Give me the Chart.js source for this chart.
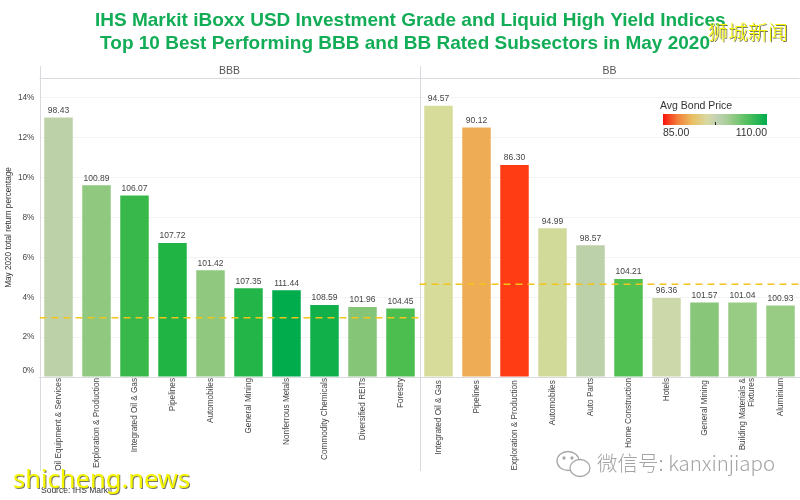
<!DOCTYPE html>
<html><head><meta charset="utf-8">
<script src="https://cdn.jsdelivr.net/npm/chart.js@4/dist/chart.umd.min.js"></script>
<style>
html,body{margin:0;padding:0;background:#fff;overflow:hidden}
#wrap{position:relative;width:800px;height:500px;font-family:"Liberation Sans",Arial,sans-serif}
#c{position:absolute;left:0;top:0}
.t{position:absolute;white-space:nowrap;line-height:1}
#bar{position:absolute;left:663px;top:114px;width:104px;height:11px;background:linear-gradient(90deg,#f8120c 0%,#f2803a 14%,#eabf62 28%,#d8d8a0 42%,#c2d2b4 52%,#a0cc90 64%,#58c060 80%,#00ac4c 100%)}
#tick{position:absolute;left:715px;top:122px;width:1px;height:3px;background:#222}
.yl{color:#f6f600;text-shadow:1px 1px 0 #776}
</style></head><body>
<div id="wrap">
<canvas id="c" width="800" height="500"></canvas>
<div class="t" style="left:660px;top:100px;font-size:10.5px;color:#333">Avg Bond Price</div>
<div id="bar"></div><div id="tick"></div>
<div class="t" style="left:663px;top:127px;font-size:10.5px;color:#333">85.00</div>
<div class="t" style="right:33px;top:127px;font-size:10.5px;color:#333">110.00</div>
<div class="t" style="left:41px;top:486px;font-size:8.5px;color:#333">Source: IHS Markit</div>
<div class="t yl" style="left:13px;top:466px;font-family:'Noto Sans';font-size:25.5px">shicheng.news</div>
<div class="t yl" style="left:708px;top:22px;font-family:'Noto Sans CJK SC';font-weight:300;font-size:20px">狮城新闻</div>
<div class="t" style="left:597px;top:452px;font-family:'Noto Sans CJK SC';font-weight:300;font-size:20.5px;color:#a4a4a4">微信号: kanxinjiapo</div>
<svg style="position:absolute;left:555px;top:449px" width="38" height="30" fill="none" stroke="#a8a8a8" stroke-width="1.3"><ellipse cx="13" cy="12" rx="11" ry="9.5" fill="#fff"/><ellipse cx="25" cy="19" rx="10" ry="8.5" fill="#fff"/><circle cx="9" cy="9" r="1" fill="#a8a8a8"/><circle cx="17" cy="9" r="1" fill="#a8a8a8"/></svg>
</div>
<script>
const titleLines = ["    IHS Markit iBoxx USD Investment Grade and Liquid High Yield Indices","  Top 10 Best Performing BBB and BB Rated Subsectors in May 2020"];
const yAxisTitle = "May 2020 total return percentage";
const panes = ["BBB","BB"];
const categories = [
 "Oil Equipment & Services","Exploration & Production","Integrated Oil & Gas","Pipelines","Automobiles","General Mining","Nonferrous Metals","Commodity Chemicals","Diversified REITs","Forestry",
 "Integrated Oil & Gas ","Pipelines ","Exploration & Production ","Automobiles ","Auto Parts","Home Construction","Hotels","General Mining ",["Building Materials &","Fixtures"],"Aluminium"];
const returns = [13.02,9.62,9.10,6.72,5.35,4.45,4.35,3.61,3.51,3.44,
 13.61,12.52,10.64,7.46,6.61,4.91,3.96,3.74,3.74,3.59];
const prices = ["98.43","100.89","106.07","107.72","101.42","107.35","111.44","108.59","101.96","104.45",
 "94.57","90.12","86.30","94.99","98.57","104.21","96.36","101.57","101.04","100.93"];
const barColors = ["#bdd1a9","#90c880","#38b84a","#20b444","#90c880","#24b548","#00ac4c","#12b04a","#84c578","#4cbe50",
 "#d8dc9a","#eeac55","#ff3c14","#d2da9a","#bcd0aa","#50c052","#ccd8aa","#88c67a","#98cc84","#98cc84"];
const avgBBB = [{x:0,y:2.97},{x:10,y:2.97}];
const avgBB = [{x:10,y:4.65},{x:20,y:4.65}];
const yTicks = [0,2,4,6,8,10,12,14];

const decor = {
 id:"decor",
 beforeDatasetsDraw(ch){
  const c=ch.ctx,a=ch.chartArea,x2=ch.scales.x2,y=ch.scales.y;
  c.save();c.strokeStyle="#d9d9e0";c.lineWidth=1;
  c.beginPath();c.moveTo(a.left,a.top+.5);c.lineTo(a.right,a.top+.5);
  [0,10].forEach(v=>{const p=Math.round(x2.getPixelForValue(v))+.5;c.moveTo(p,66);c.lineTo(p,471);});
  c.stroke();
  c.fillStyle="#555";c.font="10.5px 'Liberation Sans'";c.textAlign="center";c.textBaseline="middle";
  c.fillText(panes[0],x2.getPixelForValue(5),71);
  c.fillText(panes[1],x2.getPixelForValue(15),71);
  c.fillStyle="#444";c.font="8.3px 'Liberation Sans'";c.textAlign="right";
  c.fillText(yTicks[0]+"%",a.left-5,y.getPixelForValue(yTicks[0])-6);
  c.restore();
 },
 afterDatasetsDraw(ch){
  const c=ch.ctx;
  c.save();c.fillStyle="#444";c.font="8.5px 'Liberation Sans'";c.textAlign="center";c.textBaseline="middle";
  ch.getDatasetMeta(0).data.forEach((b,i)=>c.fillText(prices[i],b.x,b.y-7));
  c.restore();
 }
};

new Chart(document.getElementById("c"),{
 data:{labels:categories,datasets:[
  {type:"bar",data:returns,backgroundColor:barColors,grouped:false,barPercentage:1,categoryPercentage:.75,order:2},
  {type:"line",xAxisID:"x2",data:avgBBB,borderColor:"#f2c41c",borderWidth:1.5,borderDash:[7,5],pointRadius:0,order:1},
  {type:"line",xAxisID:"x2",data:avgBB,borderColor:"#f2c41c",borderWidth:1.5,borderDash:[7,5],pointRadius:0,order:1}
 ]},
 options:{
  responsive:false,animation:false,
  layout:{padding:{top:0,left:0,right:.5,bottom:0}},
  plugins:{legend:{display:false},tooltip:{enabled:false},
   title:{display:true,text:titleLines,color:"#12ad56",font:{family:"Liberation Sans",size:19,weight:"bold",lineHeight:1.21},padding:{top:9,bottom:23}}},
  scales:{
   x:{type:"category",offset:true,grid:{display:false,drawTicks:false,tickLength:0},border:{color:"#d9d9e0"},
      afterFit(s){s.height=123;},
      ticks:{minRotation:90,maxRotation:90,autoSkip:false,padding:1,color:"#444",font:{family:"Liberation Sans",size:8.2,lineHeight:1.1}}},
   x2:{type:"linear",min:0,max:20,display:false},
   y:{min:0,max:15,afterFit(s){s.width=39.5;},
      afterBuildTicks(s){s.ticks=yTicks.map(v=>({value:v}));},
      grid:{color:"#f3f3f3",drawTicks:false},border:{display:false},
      title:{display:true,text:yAxisTitle,color:"#333",font:{family:"Liberation Sans",size:8.2},padding:{top:4,bottom:0}},
      ticks:{padding:5,color:"#444",font:{family:"Liberation Sans",size:8.3},callback:v=>v===yTicks[0]?"":v+"%"}}
  }
 },
 plugins:[decor]
});
</script>
</body></html>
